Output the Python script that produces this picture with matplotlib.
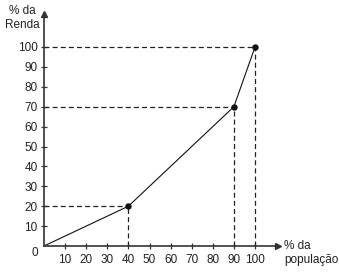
import matplotlib
matplotlib.use("Agg")
import matplotlib.pyplot as plt

pop = [0, 40, 90, 100]
renda = [0, 20, 70, 100]
xticks = [10, 20, 30, 40, 50, 60, 70, 80, 90, 100]
yticks = [10, 20, 30, 40, 50, 60, 70, 80, 90, 100]

plt.rcParams['font.family'] = ['Liberation Sans', 'DejaVu Sans']
W, H = 339, 272
fig = plt.figure(figsize=(W / 100, H / 100), dpi=100)
x0, y0 = 44, 246
sx, sy = 2.11, 1.99
xmax, ymax = 111, 116.5
ax = fig.add_axes([x0 / W, (H - y0) / H, sx * xmax / W, sy * ymax / H])
ax.set_xlim(0, xmax)
ax.set_ylim(0, ymax)
for s in ['top', 'right']:
    ax.spines[s].set_visible(False)
axc = '#333333'
for s in ['left', 'bottom']:
    ax.spines[s].set_color(axc)
    ax.spines[s].set_linewidth(1.2)
ax.set_xticks(xticks)
ax.set_yticks(yticks)
ax.set_xticklabels([str(v) for v in xticks])
ax.set_yticklabels([str(v) for v in yticks])
ax.tick_params(axis='both', direction='inout', length=5, width=0.9, color=axc,
               labelsize=8.5, labelcolor='#222222', pad=2)
ax.tick_params(axis='x', pad=3)
ax.patch.set_visible(False)

# arrows
ax.plot([xmax], [0], marker='>', color=axc, markersize=5, clip_on=False)
ax.plot([0], [ymax], marker='^', color=axc, markersize=5, clip_on=False)

# dashed guides
for xv, yv in zip(pop[1:], renda[1:]):
    ax.plot([0, xv], [yv, yv], color='#222222', lw=0.9, ls=(0, (4, 2.5)))
    ax.plot([xv, xv], [0, yv], color='#222222', lw=0.9, ls=(0, (4, 2.5)))

ax.plot(pop, renda, color='#111111', lw=0.8)
ax.plot(pop[1:], renda[1:], 'o', color='#111111', markersize=3.6)

fig.text(35 / W, 1 - 253 / H, '0', fontsize=8.5, color='#222222', ha='center', va='center')
fig.text(22 / W, 1 - 18 / H, '% da\nRenda', fontsize=8.5, color='#222222', ha='center', va='center',
         linespacing=1.15)
fig.text(284 / W, 1 - 253 / H, '% da\npopulação', fontsize=8.5, color='#222222', ha='left',
         va='center', linespacing=1.15)

fig.savefig('out.png', dpi=100)
